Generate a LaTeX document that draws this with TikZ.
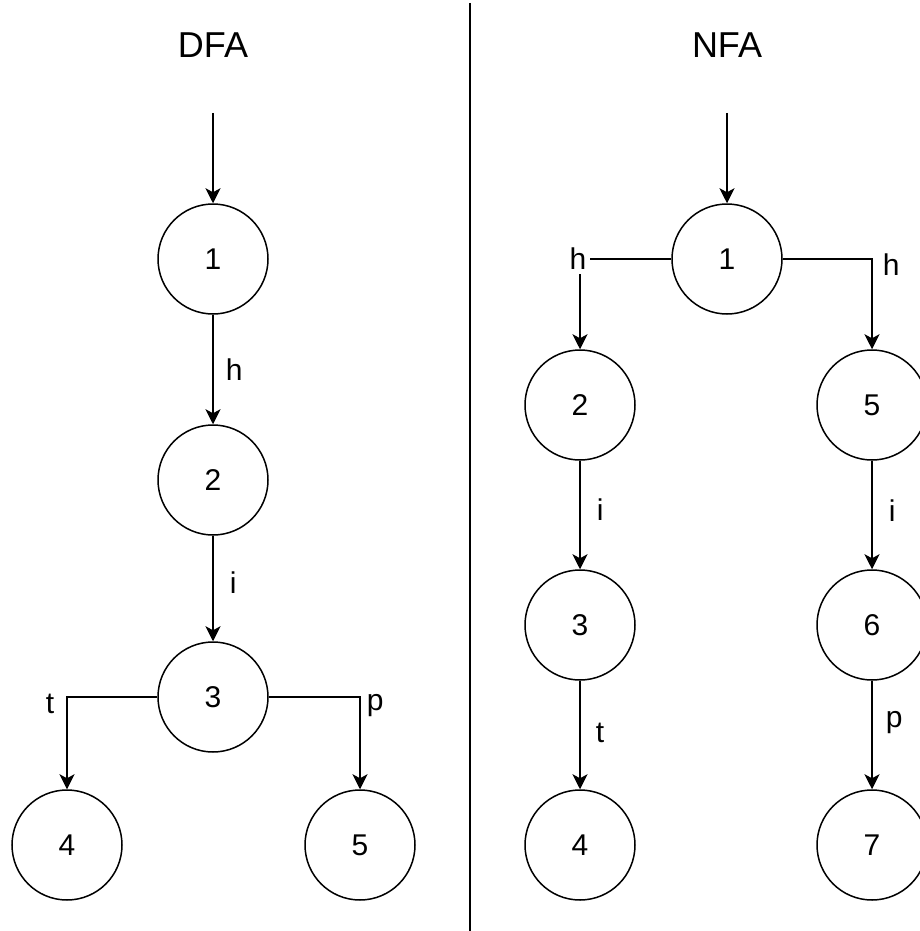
\documentclass[tikz,border=0pt]{standalone}
\usepackage{fontspec}
\setmainfont{Liberation Sans}
\usetikzlibrary{arrows.meta}
\begin{document}
\begin{tikzpicture}[x=1pt,y=-1pt,
  state/.style={circle,draw,line width=1.5pt,minimum size=110pt,inner sep=0pt,font=\fontsize{30}{36}\selectfont},
  title/.style={font=\fontsize{36}{43}\selectfont},
  lbl/.style={font=\fontsize{30}{36}\selectfont,inner sep=3pt},
  arr/.style={line width=1.5pt,-{Stealth[length=15pt,width=15pt,inset=4pt]}},
  divider/.style={line width=1.5pt}]
\useasboundingbox (0,0) rectangle (920,931);
% DFA
\node[title] (tD) at (213,45) {DFA};
\coordinate (sD) at (213,113);
\node[state] (d1) at (213,259) {1};
\node[state] (d2) at (213,480) {2};
\node[state] (d3) at (213,697) {3};
\node[state] (d4) at (67,845) {4};
\node[state] (d5) at (360,845) {5};
\draw[arr] (sD) -- (d1.north);
\draw[arr] (d1) -- node[lbl,right,inner sep=12pt] {h} (d2);
\draw[arr] (d2) -- node[lbl,right,inner sep=16pt,yshift=6pt] {i} (d3);
\draw[arr] (d3.west) -| node[lbl,pos=0.5,anchor=east,yshift=-7pt,inner sep=12pt] {t} (d4.north);
\draw[arr] (d3.east) -| node[lbl,pos=0.5,anchor=west,yshift=-9pt,inner sep=6pt] {p} (d5.north);
% divider
\coordinate (vt) at (470,3);
\coordinate (vb) at (470,931);
\draw[divider] (vt) -- (vb);
% NFA
\node[title] (tN) at (727,45) {NFA};
\coordinate (sN) at (727,113);
\node[state] (n1) at (727,259) {1};
\node[state] (n2) at (580,405) {2};
\node[state] (n3) at (580,625) {3};
\node[state] (n4) at (580,845) {4};
\node[state] (n5) at (872,405) {5};
\node[state] (n6) at (872,625) {6};
\node[state] (n7) at (872,845) {7};
\draw[arr] (sN) -- (n1.north);
\draw[arr] (n1.west) -| node[lbl,pos=0.5,fill=white,xshift=-2pt,inner sep=4pt] {h} (n2.north);
\draw[arr] (n1.east) -| node[lbl,pos=0.5,anchor=west,yshift=-6pt,inner sep=10pt] {h} (n5.north);
\draw[arr] (n2) -- node[lbl,right,inner sep=16pt,yshift=5pt] {i} (n3);
\draw[arr] (n3) -- node[lbl,right,inner sep=15pt,yshift=2pt] {t} (n4);
\draw[arr] (n5) -- node[lbl,right,inner sep=16pt,yshift=4pt] {i} (n6);
\draw[arr] (n6) -- node[lbl,right,inner sep=13pt,yshift=12pt] {p} (n7);
\end{tikzpicture}
\end{document}
